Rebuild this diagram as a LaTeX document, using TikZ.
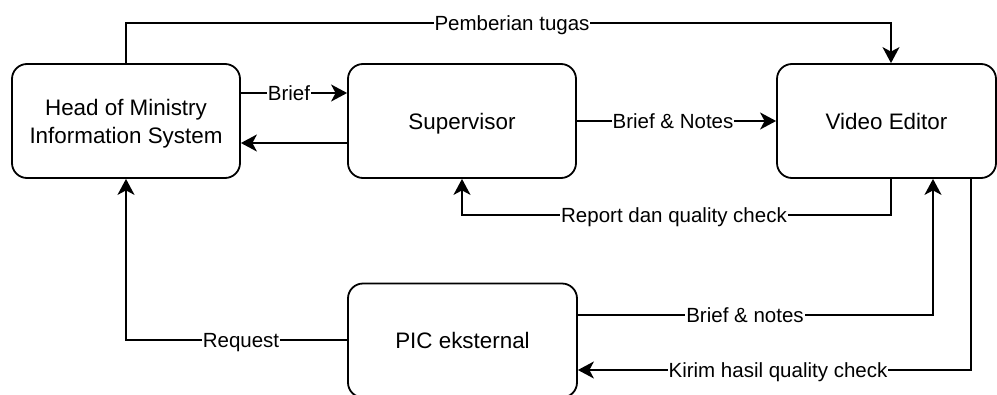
\documentclass[tikz,border=0pt]{standalone}
\usepackage{fontspec}
\setmainfont{Liberation Sans}
\usetikzlibrary{arrows.meta}
\begin{document}
\begin{tikzpicture}[x=1pt,y=-1pt,
  box/.style={draw, line width=1.8pt, rounded corners=15pt, align=center, inner sep=0pt,
    font=\fontsize{22.4}{28}\selectfont, text height=16pt, text depth=0pt},
  boxtext/.style={align=center, inner sep=0pt, font=\fontsize{22.4}{28}\selectfont},
  conn/.style={line width=1.8pt},
  arr/.style={conn, -{Stealth[length=16pt,width=17pt,inset=4.5pt]}},
  lbl/.style={fill=white, inner sep=1pt, font=\fontsize{20.5}{24}\selectfont, text height=14.7pt, text depth=0pt}]
\useasboundingbox (0,0) rectangle (997,394);
\node[box, minimum width=228pt, minimum height=114pt] (hom) at (126,121) {};
\node[boxtext] (homtxt) at (126,123.5) {Head of Ministry\\Information System};
\node[box, minimum width=228pt, minimum height=114pt] (sup) at (462,121) {Supervisor};
\node[box, minimum width=219pt, minimum height=114pt] (ve) at (886.5,121) {Video Editor};
\node[box, minimum width=229pt, minimum height=114pt] (pic) at (462.5,340.5) {PIC eksternal};

\coordinate (cTop) at (891,23);
\coordinate (cRep) at (891,215);
\coordinate (cBn) at (933,315);
\coordinate (cKr) at (971,370);
\coordinate (cReq) at (126,340);

% Pemberian tugas
\draw[arr] (hom.north) |- (cTop) -- (cTop |- ve.north);
\node[lbl] (lTop) at (512,23) {Pemberian tugas};
% Brief
\draw[arr] (hom.east |- 0,93) -- (sup.west |- 0,93);
\node[lbl] (lBrief) at (289,93) {Brief};
% back arrow
\draw[arr] (sup.west |- 0,143) -- (hom.east |- 0,143);
% Brief & Notes
\draw[arr] (sup.east) -- (ve.west);
\node[lbl] (lBN) at (673,121) {Brief \& Notes};
% Report
\draw[arr] (ve.south -| cRep) -- (cRep) -| (sup.south);
\node[lbl] (lRep) at (674,215) {Report dan quality check};
% Brief & notes
\draw[arr] (pic.east |- cBn) -| (ve.south -| cBn);
\node[lbl] (lBn2) at (745,315) {Brief \& notes};
% Kirim
\draw[arr] (ve.south -| cKr) -- (cKr) -- (pic.east |- cKr);
\node[lbl] (lKr) at (778,370) {Kirim hasil quality check};
% Request
\draw[arr] (pic.west |- cReq) -| (hom.south);
\node[lbl] (lReq) at (241,340) {Request};
\end{tikzpicture}
\end{document}
